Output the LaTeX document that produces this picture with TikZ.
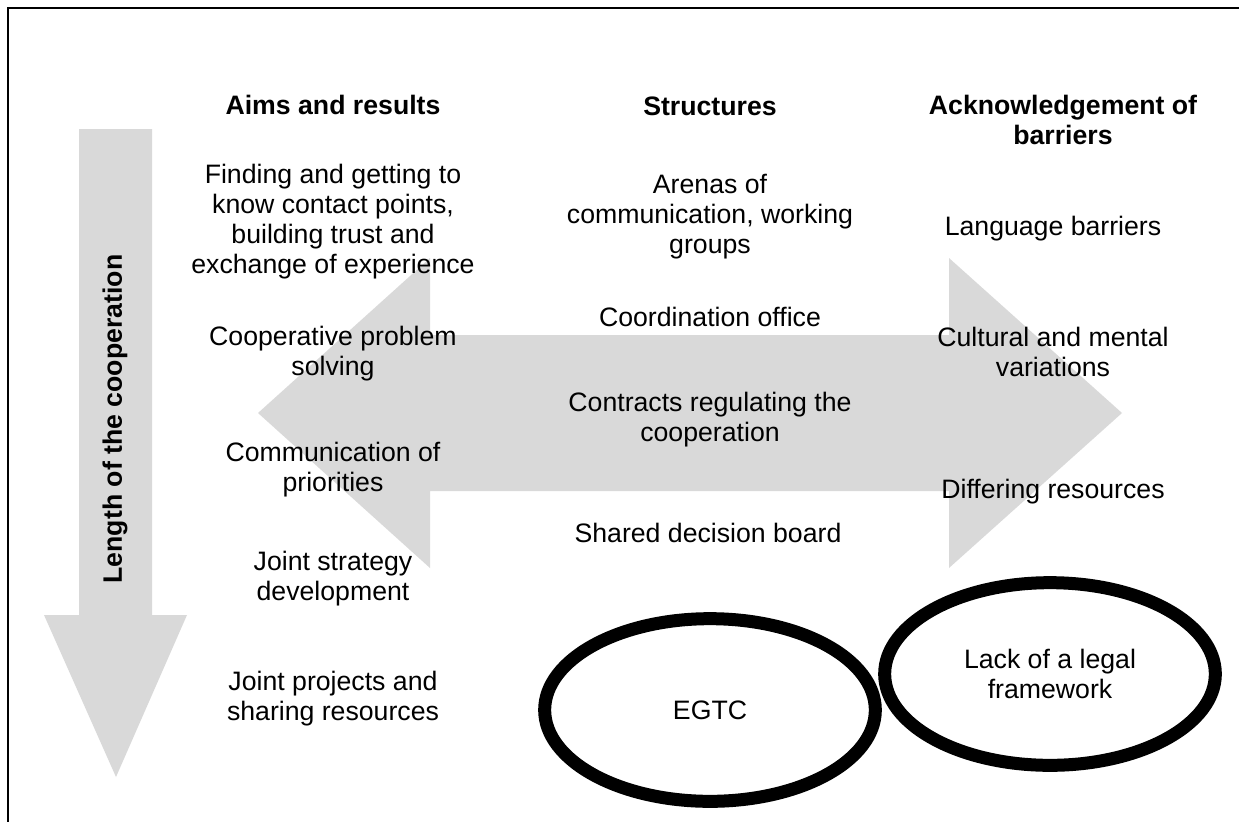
\documentclass[tikz,border=0pt]{standalone}
\usepackage{fontspec}
\setmainfont{Liberation Sans}
\usetikzlibrary{shapes.geometric}
\definecolor{arrowgrey}{RGB}{217,217,217}

\begin{document}
\begin{tikzpicture}[x=0.75pt, y=-0.75pt,
    txt/.style={align=center, inner sep=0pt, font=\fontsize{20}{22.5}\selectfont},
    headtxt/.style={txt, font=\fontsize{20}{22.5}\selectfont\bfseries},
    ring/.style={draw, ellipse, line width=9.75pt, minimum width=248pt, minimum height=137pt, txt}]
    \useasboundingbox (0,0) rectangle (1239,822);

    % Big grey arrows
    \fill[arrowgrey] (79,129) -- (152,129) -- (152,615) -- (187,615) -- (116,777) -- (44,615) -- (79,615) -- cycle;
    \fill[arrowgrey] (258,413) -- (430,258) -- (430,335) -- (949,335) -- (949,258) -- (1122,413)
        -- (949,568) -- (949,491) -- (430,491) -- (430,568) -- cycle;

    % Frame
    \draw[line width=1.5pt] (1239,8) -- (8,8) -- (8,822);

    % Column heads
    \node[headtxt] (aims) at (333,105) {Aims and results};
    \node[headtxt] (struct) at (710,106) {Structures};
    \node[headtxt] (ackn) at (1063,120) {Acknowledgement of\\barriers};
    \node[headtxt, rotate=90] (length) at (115,419) {Length of the cooperation};

    % Aims and results
    \node[txt] (find) at (333,222) {Finding and getting to\\know contact points,\\building trust and\\exchange of experience};
    \node[txt] (solve) at (333,354) {Cooperative problem\\solving};
    \node[txt] (prio) at (333,470) {Communication of\\priorities};
    \node[txt] (strat) at (333,579) {Joint strategy\\development};
    \node[txt] (proj) at (333,699) {Joint projects and\\sharing resources};

    % Structures
    \node[txt] (arenas) at (710,217) {Arenas of\\communication, working\\groups};
    \node[txt] (office) at (710,317) {Coordination office};
    \node[txt] (contract) at (710,420) {Contracts regulating the\\cooperation};
    \node[txt] (board) at (708,533) {Shared decision board};
    \node[ring] (egtc) at (710,710) {EGTC};

    % Barriers
    \node[txt] (lang) at (1053,229) {Language barriers};
    \node[txt] (culture) at (1053,352) {Cultural and mental\\variations};
    \node[txt] (resources) at (1053,492) {Differing resources};
    \node[ring] (legal) at (1050,674) {Lack of a legal\\framework};
\end{tikzpicture}
\end{document}
